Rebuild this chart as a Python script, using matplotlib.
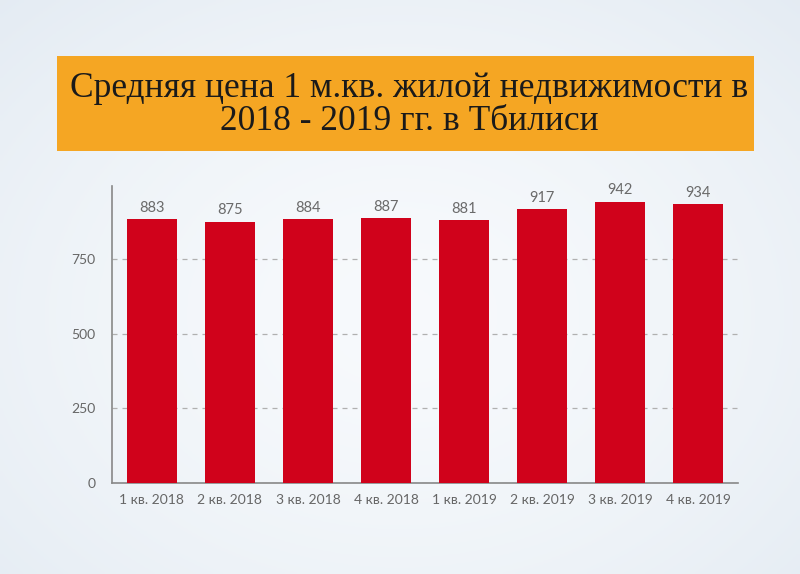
import numpy as np
import matplotlib.pyplot as plt
from matplotlib.patches import Rectangle

quarters = ["1 кв. 2018", "2 кв. 2018", "3 кв. 2018", "4 кв. 2018",
            "1 кв. 2019", "2 кв. 2019", "3 кв. 2019", "4 кв. 2019"]
prices = [883, 875, 884, 887, 881, 917, 942, 934]
y_ticks = [0, 250, 500, 750]
title = "Средняя цена 1 м.кв. жилой недвижимости в\n2018 - 2019 гг. в Тбилиси"

W, H = 800, 574
fig = plt.figure(figsize=(W / 100, H / 100), dpi=100)

# background: soft radial gradient
bg = fig.add_axes([0, 0, 1, 1])
yy, xx = np.mgrid[0:1:200j, 0:1:200j]
r = np.sqrt(((xx - 0.5) / 0.75) ** 2 + ((yy - 0.45) / 0.8) ** 2)
r = np.clip(r, 0, 1)
c_in = np.array([0.97, 0.98, 0.99])
c_out = np.array([0.89, 0.92, 0.95])
img = c_in + (c_out - c_in) * r[..., None] ** 1.5
bg.imshow(img, extent=[0, 1, 0, 1], aspect="auto", origin="lower")
bg.axis("off")

# orange title box
bg.add_patch(Rectangle((57 / W, 1 - 151 / H), (754 - 57) / W, 95 / H,
                       facecolor="#f5a623", edgecolor="none", transform=fig.transFigure))
fig.text(409 / W, 1 - 105 / H, title, ha="center", va="center",
         fontsize=25.5, family="Liberation Serif", color="#1a1a1a", linespacing=0.98)

ax = fig.add_axes([112 / W, 1 - 483 / H, (738 - 112) / W, (483 - 186) / H])
ax.patch.set_alpha(0)
x = np.arange(len(prices))
ax.bar(x, prices, width=0.64, color="#d0021b", zorder=3)
for xi, v in zip(x, prices):
    ax.text(xi, v + 15, str(v), ha="center", va="bottom", fontsize=10.5,
            family="Lato", color="#6a6a6a")

ax.set_xlim(-0.51, 7.51)
ax.set_ylim(0, 995)
ax.set_yticks(y_ticks)
ax.set_xticks(x)
ax.set_xticklabels(quarters)
ax.tick_params(length=0, labelsize=10, colors="#666666", pad=8)
for lab in ax.get_xticklabels() + ax.get_yticklabels():
    lab.set_family("Lato")
ax.tick_params(axis="y", pad=12)
ax.yaxis.grid(True, linestyle=(0, (4, 4)), color="#b0b0b0", linewidth=0.9)
ax.set_axisbelow(True)
for s in ["top", "right"]:
    ax.spines[s].set_visible(False)
for s in ["left", "bottom"]:
    ax.spines[s].set_color("#888888")
    ax.spines[s].set_linewidth(1.2)

fig.savefig("out.png", dpi=100)
